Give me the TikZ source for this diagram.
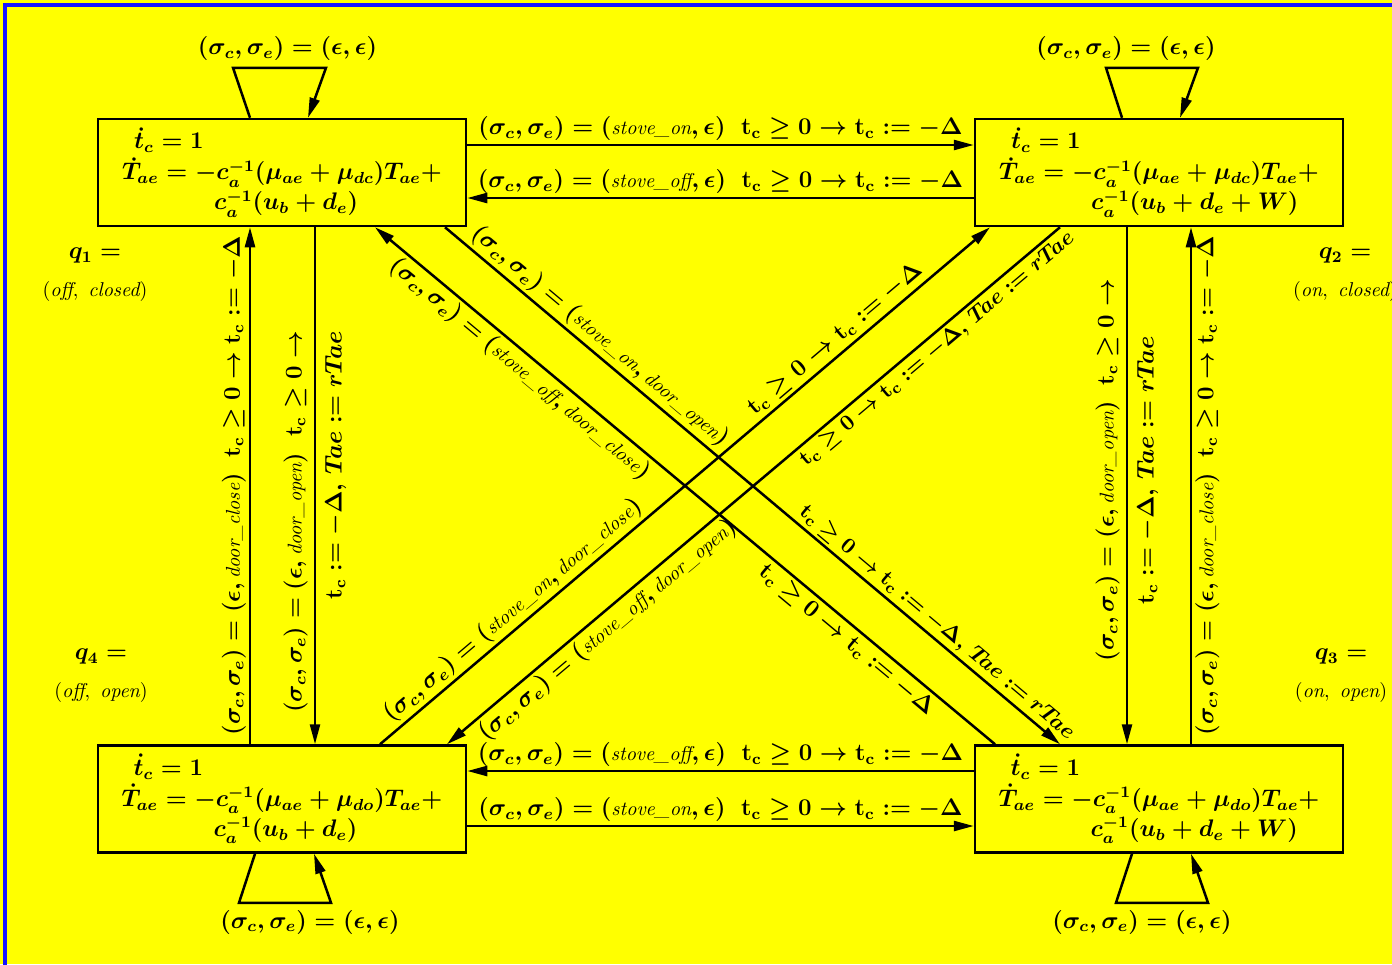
\documentclass[tikz,border=0pt]{standalone}
\usepackage{amsmath, amssymb}
\usetikzlibrary{arrows.meta}
\definecolor{bgyellow}{RGB}{255,255,0}
\definecolor{framblue}{RGB}{20,20,255}
\newcommand{\sce}{(\sigma_c,\sigma_e)}
\newcommand{\tcguard}{\mathbf{t_c}\geq 0\rightarrow\mathbf{t_c}:=-\Delta}
\newcommand{\evt}[1]{\textnormal{\itshape\normalsize #1}}
\begin{document}
\begin{tikzpicture}
                [x=0.5pt, y=-0.5pt,
                every node/.style={font=\large\boldmath},
                statebox/.style={draw, line width=1.25pt, minimum width=184pt, minimum height=53.5pt, inner sep=0pt, align=left},
                statelabel/.style={align=center},
                trans/.style={line width=1.25pt, -{Triangle[length=10pt,width=5pt]}},
                lab/.style={inner sep=1.5pt},
                longlab/.style={inner sep=1.5pt, font=\fontsize{11}{13}\selectfont\boldmath}]
                \useasboundingbox (0,0) rectangle (1392,964);
                \clip (0,0) rectangle (1392,964);
                \fill[bgyellow] (0,0) rectangle (1392,964);
                \draw[framblue, line width=2pt] (4.5,1000) -- (4.5,4.5) -- (1400,4.5);
                \node[statebox] (q1) at (282,172.5) {\hspace*{6pt}$\dot{t}_c=1$\\[1.5pt]
                $\dot{T}_{ae}=-c_a^{-1}(\mu_{ae}+\mu_{dc})T_{ae}+$\\[1pt]
                \hspace*{46pt}$c_a^{-1}(u_b+d_e)$};
                \node[statebox] (q2) at (1159,172.5) {\hspace*{6pt}$\dot{t}_c=1$\\[1.5pt]
                $\dot{T}_{ae}=-c_a^{-1}(\mu_{ae}+\mu_{dc})T_{ae}+$\\[1pt]
                \hspace*{46pt}$c_a^{-1}(u_b+d_e+W)$};
                \node[statebox] (q3) at (1159,799) {\hspace*{6pt}$\dot{t}_c=1$\\[1.5pt]
                $\dot{T}_{ae}=-c_a^{-1}(\mu_{ae}+\mu_{do})T_{ae}+$\\[1pt]
                \hspace*{46pt}$c_a^{-1}(u_b+d_e+W)$};
                \node[statebox] (q4) at (282,799) {\hspace*{6pt}$\dot{t}_c=1$\\[1.5pt]
                $\dot{T}_{ae}=-c_a^{-1}(\mu_{ae}+\mu_{do})T_{ae}+$\\[1pt]
                \hspace*{46pt}$c_a^{-1}(u_b+d_e)$};
                \node[statelabel] (l1) at (95,275) {$q_1=$\\[5pt] {\normalsize\unboldmath$(\textit{off},\ \textit{closed})$}};
                \node[statelabel] (l2) at (1345,275) {$q_2=$\\[5pt] {\normalsize\unboldmath$(\textit{on},\ \textit{closed})$}};
                \node[statelabel] (l3) at (1341,676) {$q_3=$\\[5pt] {\normalsize\unboldmath$(\textit{on},\ \textit{open})$}};
                \node[statelabel] (l4) at (101,676) {$q_4=$\\[5pt] {\normalsize\unboldmath$(\textit{off},\ \textit{open})$}};
                \draw[trans] ([yshift=13.75pt]q1.east) -- ([yshift=13.75pt]q2.west)
                node[midway, above, lab] {$\sce=(\evt{stove\_on},\epsilon)\ \ \tcguard$};
                \draw[trans] ([yshift=-12.75pt]q2.west) -- ([yshift=-12.75pt]q1.east)
                node[midway, above, lab] {$\sce=(\evt{stove\_off},\epsilon)\ \ \tcguard$};
                \draw[trans] ([yshift=14pt]q3.west) -- ([yshift=14pt]q4.east)
                node[midway, above, lab] {$\sce=(\evt{stove\_off},\epsilon)\ \ \tcguard$};
                \draw[trans] ([yshift=-13.5pt]q4.east) -- ([yshift=-13.5pt]q3.west)
                node[midway, above, lab] {$\sce=(\evt{stove\_on},\epsilon)\ \ \tcguard$};
                \draw[trans] ([xshift=-16pt]q4.north) -- ([xshift=-16pt]q1.south)
                node[midway, rotate=90, anchor=south, lab] {$\sce=(\epsilon,\evt{door\_close})\ \ \tcguard$};
                \draw[trans] ([xshift=16.5pt]q1.south) -- ([xshift=16.5pt]q4.north)
                node[pos=0.57, rotate=90, align=right] {$\sce=(\epsilon,\evt{door\_open})\ \ \mathbf{t_c}\geq 0\rightarrow$\\[6pt]
                $\mathbf{t_c}:=-\Delta,\,T\!ae:=rT\!ae$};
                \draw[trans] ([xshift=-16pt]q2.south) -- ([xshift=-16pt]q3.north)
                node[pos=0.47, rotate=90, align=center] {$\sce=(\epsilon,\evt{door\_open})\ \ \mathbf{t_c}\geq 0\rightarrow$\\[6pt]
                $\mathbf{t_c}:=-\Delta,\,T\!ae:=rT\!ae$};
                \draw[trans] ([xshift=16pt]q3.north) -- ([xshift=16pt]q2.south)
                node[midway, rotate=90, anchor=north, lab] {$\sce=(\epsilon,\evt{door\_close})\ \ \tcguard$};
                \draw[trans] ([xshift=81.5pt]q1.south) -- ([xshift=-49.5pt]q3.north)
                node[pos=0.235, sloped, above, lab] {$\sce=(\evt{stove\_on},\evt{door\_open})$}
                node[pos=0.785, sloped, above, longlab] {$\tcguard,\,T\!ae:=rT\!ae$};
                \draw[trans] ([xshift=-82pt]q3.north) -- ([xshift=46.5pt]q1.south)
                node[pos=0.224, sloped, below, lab] {$\tcguard$}
                node[pos=0.75, sloped, below, lab] {$\sce=(\evt{stove\_off},\evt{door\_close})$};
                \draw[trans] ([xshift=49pt]q4.north) -- ([xshift=-84.5pt]q2.south)
                node[pos=0.235, sloped, above, lab] {$\sce=(\evt{stove\_on},\evt{door\_close})$}
                node[pos=0.762, sloped, above, lab] {$\tcguard$};
                \draw[trans] ([xshift=-49.5pt]q2.south) -- ([xshift=82.5pt]q4.north)
                node[pos=0.215, sloped, below, longlab] {$\tcguard,\,T\!ae:=rT\!ae$}
                node[pos=0.755, sloped, below, lab] {$\sce=(\evt{stove\_off},\evt{door\_open})$};
                \draw[trans] ([xshift=-16pt]q1.north) -- ++(-17,-50) -- ++(93,0)
                node[midway, above, xshift=4pt, inner sep=3pt] {$\sce=(\epsilon,\epsilon)$}
                -- ([xshift=13pt]q1.north);
                \draw[trans] ([xshift=-18.5pt]q2.north) -- ++(-16,-50) -- ++(92,0)
                node[midway, above, xshift=-13pt, inner sep=3pt] {$\sce=(\epsilon,\epsilon)$}
                -- ([xshift=10.5pt]q2.north);
                \draw[trans] ([xshift=-13.5pt]q4.south) -- ++(-16,49) -- ++(92,0)
                node[midway, below, xshift=12.5pt, inner sep=3pt] {$\sce=(\epsilon,\epsilon)$}
                -- ([xshift=16pt]q4.south);
                \draw[trans] ([xshift=-13.5pt]q3.south) -- ++(-16,49) -- ++(92,0)
                node[midway, below, xshift=-10pt, inner sep=3pt] {$\sce=(\epsilon,\epsilon)$}
                -- ([xshift=16pt]q3.south);
\end{tikzpicture}
\end{document}
